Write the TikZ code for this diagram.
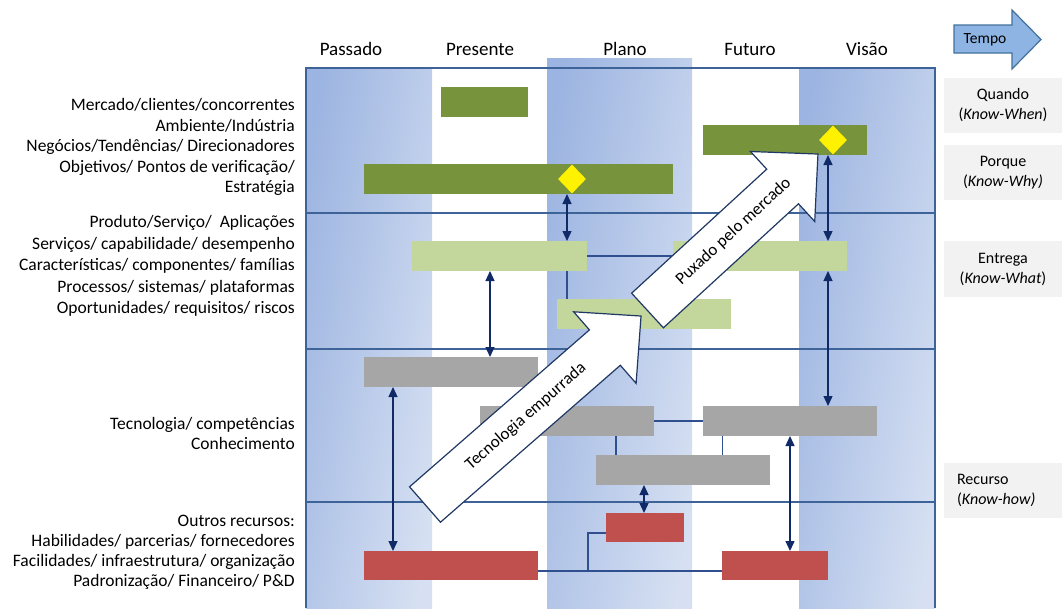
\documentclass[tikz,border=0pt]{standalone}
\usepackage{fontspec}
\setmainfont{Carlito}
\usetikzlibrary{arrows.meta,shapes.geometric}

\definecolor{framec}{HTML}{3D6399}
\definecolor{navy}{HTML}{0F2A66}
\definecolor{linkc}{HTML}{2F4F8F}
\definecolor{colA}{HTML}{9CB4E1}
\definecolor{colB}{HTML}{D6E0F2}
\definecolor{dkgreen}{HTML}{77933C}
\definecolor{ltgreen}{HTML}{C3D69B}
\definecolor{grayb}{HTML}{A6A6A6}
\definecolor{redb}{HTML}{C0504D}
\definecolor{boxg}{HTML}{F2F2F2}
\definecolor{tempof}{HTML}{8DB4E2}
\definecolor{tempoe}{HTML}{41719C}
\definecolor{arrowe}{HTML}{1F3864}

\begin{document}
\begin{tikzpicture}[x=1pt,y=-1pt,
  colshade/.style={left color=colA, right color=colB, shading angle=80},
  frame/.style={framec, line width=1.5pt},
  bar/.style={anchor=north west, inner sep=0pt, outer sep=0pt, minimum height=30pt},
  milestone/.style={diamond, fill=yellow, inner sep=0pt, minimum width=28pt, minimum height=29pt},
  dual/.style={navy, line width=1.3pt, {Triangle[length=10pt,width=9pt]}-{Triangle[length=10pt,width=9pt]}},
  link/.style={linkc, line width=1.3pt},
  hdr/.style={font=\fontsize{19}{22}\selectfont, inner sep=0pt},
  lbl/.style={align=right, anchor=east, inner sep=0pt},
  rbox/.style={fill=boxg, inner xsep=13pt, inner ysep=0pt, text width=92pt, minimum height=55pt,
    font=\fontsize{16}{20}\selectfont, align=center},
  bigarrow/.style={fill=white, draw=arrowe, line width=1.2pt, line join=miter},
  arrtxt/.style={font=\fontsize{17}{20}\selectfont, inner sep=0pt},
  tempoarrow/.style={fill=tempof, draw=tempoe, line width=1.2pt, line join=miter}
]
\useasboundingbox (0,0) rectangle (1062,608);

% time columns
\path[colshade] (306,68) rectangle (432,608);
\path[colshade] (547,58) rectangle (692,608);
\path[colshade] (799,68) rectangle (935,608);

% frame and layer separators
\draw[frame] (935,608) -- (935,68) -- (306,68) -- (306,608);
\draw[frame] (306,213) -- (935,213);
\draw[frame] (306,349) -- (935,349);
\draw[frame] (306,502) -- (935,502);

% column headers
\node[hdr] (hpas) at (351,49) {Passado};
\node[hdr] (hpre) at (480,49) {Presente};
\node[hdr] (hpla) at (625,49) {Plano};
\node[hdr] (hfut) at (750,49) {Futuro};
\node[hdr] (hvis) at (867,49) {Visão};

% time arrow
\draw[tempoarrow] (954,25) -- (1012,25) -- (1012,10) -- (1041,39.5) -- (1012,69) -- (1012,53) -- (954,53) -- cycle;
\node[font=\fontsize{15.5}{18}\selectfont, inner sep=0pt] (tempo) at (985,40) {Tempo};

% layer labels
\node[lbl, font=\fontsize{17.5}{20.5}\selectfont] (lab1) at (295,147) {Mercado/clientes/concorrentes\\Ambiente/Indústria\\Negócios/Tendências/ Direcionadores\\Objetivos/ Pontos de verificação/\\Estratégia};
\node[lbl, font=\fontsize{17.5}{21.5}\selectfont] (lab2) at (295,266) {Produto/Serviço/ \ Aplicações\\Serviços/ capabilidade/ desempenho\\Características/ componentes/ famílias\\Processos/ sistemas/ plataformas\\Oportunidades/ requisitos/ riscos};
\node[lbl, font=\fontsize{17.5}{20}\selectfont] (lab3) at (295,433.5) {Tecnologia/ competências\\Conhecimento};
\node[lbl, font=\fontsize{17.5}{20}\selectfont] (lab4) at (295,552) {Outros recursos:\\Habilidades/ parcerias/ fornecedores\\Facilidades/ infraestrutura/ organização\\Padronização/ Financeiro/ P\&D};

% knowledge boxes
\node[rbox] (qbox) at (1003,105.5) {Quando\\(\textit{Know-When})};
\node[rbox] (pbox) at (1003,172.5) {Porque\\(\textit{Know-Why)}};
\node[rbox, minimum height=56pt] (ebox) at (1003,269) {Entrega\\(\textit{Know-What})};
\node[rbox, align=left] (rbox) at (1003,490) {Recurso\\(\textit{Know-how)}};

% market / business layer
\node[bar, fill=dkgreen, minimum width=87pt] (g1) at (441,87) {};
\node[bar, fill=dkgreen, minimum width=309pt] (g2) at (364,164) {};
\node[bar, fill=dkgreen, minimum width=164pt] (g3) at (703,125) {};

% product layer
\node[bar, fill=ltgreen, minimum width=175pt] (l1) at (412,241) {};
\node[bar, fill=ltgreen, minimum width=174pt] (l2) at (673,241) {};
\node[bar, fill=ltgreen, minimum width=174pt] (l3) at (557,299) {};

% technology layer
\node[bar, fill=grayb, minimum width=174pt] (k1) at (364,357) {};
\node[bar, fill=grayb, minimum width=174pt] (k2) at (480,406) {};
\node[bar, fill=grayb, minimum width=174pt] (k3) at (703,406) {};
\node[bar, fill=grayb, minimum width=174pt] (k4) at (596,455) {};

% resources layer
\node[bar, fill=redb, minimum width=78pt, minimum height=29pt] (r1) at (606,513) {};
\node[bar, fill=redb, minimum width=174pt, minimum height=29pt] (r2) at (364,551) {};
\node[bar, fill=redb, minimum width=106pt, minimum height=29pt] (r3) at (722,551) {};

% x positions of vertical connectors
\coordinate (xa) at (567,0);
\coordinate (xb) at (490,0);
\coordinate (xc) at (828,0);
\coordinate (xd) at (393,0);
\coordinate (xe) at (644,0);
\coordinate (xf) at (790,0);
\coordinate (xg) at (616,0);
\coordinate (xh) at (722.5,0);
\coordinate (jy) at (0,571);
\coordinate (ej) at (588,533);

% plain links
\draw[link] (l1.east) -- (l2.west);
\draw[link] (l1.south -| xa) -- (l3.north -| xa);
\draw[link] (k2.east) -- (k3.west);
\draw[link] (k2.south -| xg) -- (k4.north -| xg);
\draw[link] (k3.south -| xh) -- (k4.north -| xh);
\draw[link] (r2.east |- jy) -- (r3.west |- jy);
\draw[link] (r1.west |- ej) -| (ej |- jy);

% two-way dependencies
\draw[dual] (g2.south -| xa) -- (l1.north -| xa);
\draw[dual] (l1.south -| xb) -- (k1.north -| xb);
\draw[dual] (g3.south -| xc) -- (l2.north -| xc);
\draw[dual] (l2.south -| xc) -- (k3.north -| xc);
\draw[dual] (k1.south -| xd) -- (r2.north -| xd);
\draw[dual] (k4.south -| xe) -- (r1.north -| xe);
\draw[dual] (k3.south -| xf) -- (r3.north -| xf);

% milestones
\node[milestone] (m1) at (572,179) {};
\node[milestone] (m2) at (833,140) {};

% technology push
\begin{scope}[shift={(425,504.5)}, rotate=41.1]
  \draw[bigarrow] (0,-23.5) -- (238.7,-23.5) -- (238.7,-47.5) -- (286.7,0) -- (238.7,47.5) -- (238.7,23.5) -- (0,23.5) -- cycle;
  \node[arrtxt, rotate=41.1] (push) at (134,0) {Tecnologia empurrada};
\end{scope}

% market pull
\begin{scope}[shift={(647.5,310.5)}, rotate=42.55]
  \draw[bigarrow] (0,-23.5) -- (183.4,-23.5) -- (183.4,-47.5) -- (231.4,0) -- (183.4,47.5) -- (183.4,23.5) -- (0,23.5) -- cycle;
  \node[arrtxt, rotate=42.55] (pull) at (117,0) {Puxado pelo mercado};
\end{scope}
\end{tikzpicture}
\end{document}
